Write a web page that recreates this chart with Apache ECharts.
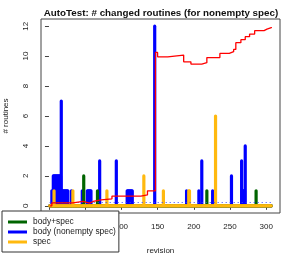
<!DOCTYPE html>
<html>
<head>
<meta charset="utf-8">
<script src="https://cdn.jsdelivr.net/npm/echarts@6/dist/echarts.min.js"></script>
<style>html,body{margin:0;padding:0;background:#fff;}#c{width:294px;height:254px;}</style>
</head>
<body>
<div id="c"></div>
<script>
// revisions range
const revFirst = 1;
const revLast = 307;
// spikes: [revision, # changed routines]
const bodySpecSpikes = [[48,2],[67,1],[218,1],[286,1]];
const bodySpikes = [[4,1],[6,2],[7,2],[8,2],[9,2],[10,2],[11,2],[12,2],[13,2],[14,2],[15,2],[16,2],[17,7],
  [18,1],[19,1],[20,1],[21,1],[22,1],[23,1],[24,1],[25,1],[26,1],[31,1],[46,1],
  [53,1],[54,1],[55,1],[56,1],[57,1],[58,1],[70,3],[93,3],
  [108,1],[109,1],[110,1],[111,1],[112,1],[113,1],[114,1],[115,1],
  [146,12],[190,1],[207,1],[211,3],[226,1],[252,2],
  [266,3],[267,1],[268,1],[269,1],[270,1],[271,4]];
const specSpikes = [[7,1],[33,1],[80,1],[131,2],[158,1],[193,1],[194,1],[230,6]];
// red running line: breakpoints
const redRev = [1,4,33,47,56,61,72,87,127,136,147,150,164,186,196,211,218,236,249,255,258,265,271,277,284,297,301,307];
const redVal = [0,0.2,0.29,0.18,0.29,0.4,0.47,0.65,0.73,1.0,10.25,9.95,10.07,9.62,9.47,9.56,9.9,10.18,10.3,10.45,10.9,11.1,11.3,11.47,11.7,11.8,11.9,11.95];
// dotted guide
const dotRev = [1,307];
const dotVal = [0.22,0.22];
const yTicks = [0,2,4,6,8,10,12];
const xTicks = [0,50,100,150,200,250,300];
const names = ['body+spec','body (nonempty spec)','spec'];

function expand(spikes){
  const m = new Map(spikes.map(p=>[p[0],p[1]]));
  const out = [];
  for (let r = revFirst; r <= revLast; r++) out.push([r, m.has(r) ? m.get(r) : 0]);
  return out;
}
const font = 'Liberation Sans, Arial, Helvetica, sans-serif';
const chart = echarts.init(document.getElementById('c'), null, {renderer:'canvas'});
// R type="h" with thick round-capped lines
const spikeSeries = (name, color, data, z) => ({
  name, type:'custom', data, z, itemStyle:{color},
  encode:{x:0, y:1},
  renderItem:(params, api) => {
    const p0 = api.coord([api.value(0), 0]);
    const p1 = api.coord([api.value(0), api.value(1)]);
    if (Math.abs(p1[1]-p0[1]) < 0.01) p1[1] -= 0.01;
    return {type:'line', shape:{x1:p0[0], y1:p0[1], x2:p1[0], y2:p1[1]},
      style:{stroke:color, lineWidth:3.2, lineCap:'round'}, silent:true};
  }
});
chart.setOption({
  animation:false,
  title:{text:'AutoTest: # changed routines (for nonempty spec)', left:156, top:3, textAlign:'center',
    textStyle:{fontFamily:font, fontSize:9.8, fontWeight:'bold', color:'#111'}},
  grid:{left:41, right:14, top:19, bottom:41, show:true, borderColor:'#444', borderWidth:1,
    backgroundColor:'transparent', containLabel:false, outerBoundsMode:'none'},
  legend:{data:names, orient:'vertical', left:2, top:211, icon:'rect', itemWidth:19, itemHeight:3, itemGap:2,
    padding:[7,3,6,6], backgroundColor:'#fff', borderColor:'#333', borderWidth:1, borderRadius:0,
    textStyle:{fontFamily:font, fontSize:8.4, color:'#222', padding:[0,0,0,1]}, z:20},
  xAxis:{type:'value', min:-11, max:319, name:'revision', nameLocation:'middle', nameGap:34,
    nameTextStyle:{fontFamily:font, fontSize:8, color:'#222'},
    axisLine:{show:false}, splitLine:{show:false},
    axisTick:{show:true, length:4, lineStyle:{color:'#444'}, customValues:xTicks},
    axisLabel:{fontFamily:font, fontSize:8, color:'#222', margin:10, customValues:xTicks}},
  yAxis:{type:'value', min:-0.48, max:12.48, name:'# routines', nameLocation:'middle', nameGap:31, nameRotate:90,
    nameTextStyle:{fontFamily:font, fontSize:8, color:'#222'},
    axisLine:{show:false}, splitLine:{show:false},
    axisTick:{show:true, length:4, lineStyle:{color:'#444'}, customValues:yTicks},
    axisLabel:{fontFamily:font, fontSize:8, color:'#222', rotate:90, margin:11, customValues:yTicks}},
  series:[
    spikeSeries(names[1], '#0000ff', expand(bodySpikes), 2),
    spikeSeries(names[0], '#006400', expand(bodySpecSpikes), 3),
    spikeSeries(names[2], '#ffb90f', expand(specSpikes), 4),
    {name:'dots', type:'line', data:dotRev.map((r,i)=>[r,dotVal[i]]), symbol:'none', z:5,
      lineStyle:{color:'#3344ff', width:1, type:[1,3]}},
    {name:'running', type:'line', step:'end', data:redRev.map((r,i)=>[r,redVal[i]]), symbol:'none', z:6,
      lineStyle:{color:'#ff0000', width:1.3}}
  ]
});
</script>
</body>
</html>
